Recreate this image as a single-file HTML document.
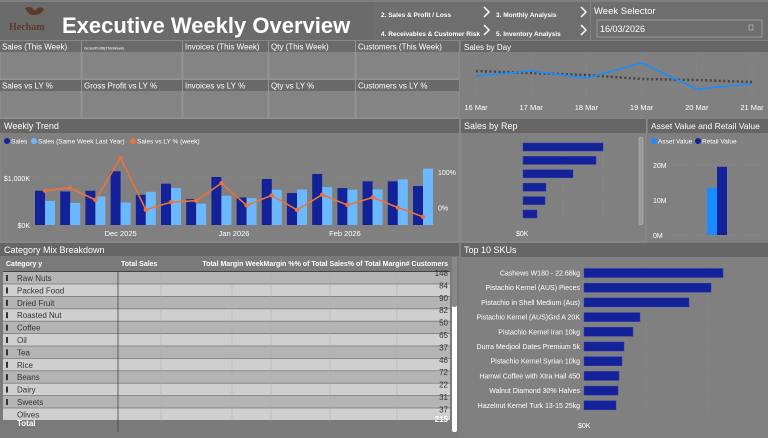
<!DOCTYPE html>
<html><head><meta charset="utf-8"><style>
html,body{margin:0;padding:0;background:#7f7f7f;width:768px;height:438px;overflow:hidden}
svg{display:block;font-family:"Liberation Sans",sans-serif}
</style></head><body>
<svg id="s" width="768" height="438" viewBox="0 0 768 438" xmlns="http://www.w3.org/2000/svg">
<rect x="0" y="0" width="768" height="438" fill="#7f7f7f"/>
<rect x="0" y="2" width="460" height="38" fill="#6b6b6b"/>
<g>
<path d="M25 8 q6 -3 10 3 q4 -6 9 -2 q-3 6 -9 6 q-6 1 -10 -7z" fill="#5a3a2a"/>
<text x="9" y="30" font-size="10" font-weight="bold" fill="#5a3a2a" font-family="Liberation Serif,serif">Hecham</text>
</g>
<text x="62" y="33" font-size="22" font-weight="bold" fill="#fff">Executive Weekly Overview</text>
<rect x="375" y="2" width="215" height="38" fill="#6e6e6e"/>
<g font-size="6.5" font-weight="bold" fill="#fff">
<text x="381" y="17">2. Sales &amp; Profit / Loss</text>
<text x="381" y="36">4. Receivables &amp; Customer Risk</text>
<text x="496" y="17">3. Monthly Analysis</text>
<text x="496" y="36">5. Inventory Analysis</text>
</g>
<g stroke="#fff" stroke-width="1.5" fill="none">
<path d="M484 7 l5 5 l-5 5"/><path d="M484 25 l5 5 l-5 5"/>
<path d="M581 7 l5 5 l-5 5"/><path d="M581 25 l5 5 l-5 5"/>
</g>
<rect x="591" y="2" width="177" height="38" fill="#6e6e6e"/>
<text x="594" y="14" font-size="9.5" fill="#fff">Week Selector</text>
<rect x="597" y="20" width="165" height="17" fill="#6e6e6e" stroke="#aaa" stroke-width="0.7"/>
<text x="600" y="32" font-size="9" fill="#fff">16/03/2026</text>
<rect x="749" y="25" width="4" height="5" fill="none" stroke="#ccc" stroke-width="0.6"/>
<g id="kpis"></g>
<rect x="461" y="41" width="307" height="77" fill="#808080"/>
<rect x="461" y="41" width="307" height="11" fill="#666"/>
<text x="464" y="50" font-size="8" fill="#fff">Sales by Day</text>
<g id="day"></g>
<rect x="0" y="119" width="459" height="123" fill="#808080" stroke="#999" stroke-width="0.5"/>
<rect x="0" y="119" width="459" height="14" fill="#666"/>
<text x="4" y="129" font-size="9" fill="#fff">Weekly Trend</text>
<g font-size="6.5" fill="#fff">
<circle cx="7" cy="141" r="3" fill="#14229a"/><text x="11" y="143.5">Sales</text>
<circle cx="34" cy="141" r="3" fill="#6cb8ff"/><text x="38" y="143.5">Sales (Same Week Last Year)</text>
<circle cx="133" cy="141" r="3" fill="#e8743b"/><text x="137" y="143.5">Sales vs LY % (week)</text>
</g>
<g id="trend"></g>
<rect x="461" y="119" width="185" height="123" fill="#808080" stroke="#999" stroke-width="0.5"/>
<rect x="461" y="119" width="185" height="14" fill="#666"/>
<text x="464" y="129" font-size="9" fill="#fff">Sales by Rep</text>
<rect x="639" y="137" width="4" height="88" rx="2" fill="#999" stroke="#bbb" stroke-width="0.5"/>
<g id="rep"></g>
<rect x="648" y="119" width="120" height="123" fill="#808080"/>
<rect x="648" y="119" width="120" height="14" fill="#666"/>
<text x="651" y="129" font-size="8.5" fill="#fff">Asset Value and Retail Value</text>
<g font-size="6.5" fill="#fff">
<circle cx="654" cy="141" r="3" fill="#1a8cff"/><text x="658" y="143.5">Asset Value</text>
<circle cx="698" cy="141" r="3" fill="#14229a"/><text x="702" y="143.5">Retail Value</text>
</g>
<g id="asset"></g>
<rect x="0" y="243" width="459" height="195" fill="#7a7a7a"/>
<rect x="0" y="243" width="459" height="13" fill="#666"/>
<text x="4" y="253" font-size="9" fill="#fff">Category Mix Breakdown</text>
<g id="table"></g>
<rect x="452" y="257" width="5" height="175" rx="2" fill="#fff"/>
<rect x="452" y="257" width="5" height="50" rx="2" fill="#888"/>
<rect x="461" y="243" width="307" height="195" fill="#808080"/>
<rect x="461" y="243" width="307" height="14" fill="#666"/>
<text x="464" y="253" font-size="9" fill="#fff">Top 10 SKUs</text>
<g id="sku"></g>
</svg>
<script>
const NS="http://www.w3.org/2000/svg";
function mk(p,t,a,txt){const e=document.createElementNS(NS,t);for(const k in a)e.setAttribute(k,a[k]);if(txt!==undefined)e.textContent=txt;p.appendChild(e);return e;}
const kpiTop=["Sales (This Week)","GrossProfit(ThisWeek)","Invoices (This Week)","Qty (This Week)","Customers (This Week)"];
const kpiBot=["Sales vs LY %","Gross Profit vs LY %","Invoices vs LY %","Qty vs LY %","Customers vs LY %"];
const kpiX=[0,82,183,269,356,460];
const kg=document.getElementById('kpis');
[kpiTop,kpiBot].forEach((row,r)=>{row.forEach((t,i)=>{
 const y=41+r*39;
 const c=mk(kg,'rect',{x:kpiX[i],y:y,width:kpiX[i+1]-kpiX[i]-1,height:38,fill:'#848484',stroke:'#a0a0a0','stroke-width':0.6});
 
 
 mk(kg,'rect',{x:kpiX[i],y:y,width:kpiX[i+1]-kpiX[i]-1,height:11,fill:'#6a6a6a'});
 const tx=mk(kg,'text',{x:kpiX[i]+2,y:y+8.5,'font-size':i==1&&r==0?4:8,fill:'#fff'},t);
 
 
});});
const days=["16 Mar","17 Mar","18 Mar","19 Mar","20 Mar","21 Mar"];
const dayThis=[34,39,32,47,21,26];
const dayLY=[39,37,35,31,30,28];
const dg=document.getElementById('day');
const dx=i=>476+i*55.2, dy=v=>110-v;
days.forEach((d,i)=>{mk(dg,'line',{x1:dx(i),x2:dx(i),y1:55,y2:100,stroke:'#999','stroke-dasharray':'1,2','stroke-width':0.5});
 const t=mk(dg,'text',{x:dx(i),y:110,'font-size':7.5,fill:'#fff','text-anchor':'middle'},d);
 
 });
const lyl=mk(dg,'polyline',{points:dayLY.map((v,i)=>dx(i)+','+dy(v)).join(' '),fill:'none',stroke:'#444','stroke-width':2.5,'stroke-dasharray':'2,2.5'});


const thl=mk(dg,'polyline',{points:dayThis.map((v,i)=>dx(i)+','+dy(v)).join(' '),fill:'none',stroke:'#1a8cff','stroke-width':1.6});


const weeks=16;
const salesK=[729,714,729,1143,643,879,550,1021,586,979,679,1086,786,929,929,829];
const lyK=[514,471,607,479,707,786,457,621,571,750,757,807,750,757,971,1200];
const vsLY=[47,55,21,139,-6,15,19,68,6,34,-7,36,7,28,0,-26];
const trendTicks=["Dec 2025","Jan 2026","Feb 2026"];
const trendTickIdx=[3.2,7.7,12.1];
const tg=document.getElementById('trend');
const gx=i=>35+i*25.2, ys=v=>225-v*0.047, yp=p=>207.5-p*0.357;
mk(tg,'line',{x1:30,x2:430,y1:ys(1000),y2:ys(1000),stroke:'#9a9a9a','stroke-dasharray':'1,2','stroke-width':0.6});
[[0,'$0K'],[1000,'$1,000K']].forEach(([v,l])=>{const t=mk(tg,'text',{x:30,y:ys(v)+3,'font-size':7,fill:'#fff','text-anchor':'end'},l);
 
 });
[[100,'100%'],[0,'0%']].forEach(([v,l])=>{const t=mk(tg,'text',{x:438,y:yp(v)+3,'font-size':7,fill:'#fff'},l);
 
 });
trendTicks.forEach((l,k)=>{const t=mk(tg,'text',{x:gx(trendTickIdx[k])+5,y:236,'font-size':7.5,fill:'#fff','text-anchor':'middle'},l);
 
 });
for(let i=0;i<weeks;i++){
 const b=mk(tg,'rect',{x:gx(i),y:ys(salesK[i]),width:10,height:225-ys(salesK[i]),fill:'#14229a'});
 
 
 const c=mk(tg,'rect',{x:gx(i)+10,y:ys(lyK[i]),width:10,height:225-ys(lyK[i]),fill:'#6cb8ff'});
 
 
}
const pl=mk(tg,'polyline',{points:vsLY.map((v,i)=>(gx(i)+10)+','+yp(v)).join(' '),fill:'none',stroke:'#e8743b','stroke-width':1.6});


vsLY.forEach((v,i)=>{const p=mk(tg,'circle',{cx:gx(i)+10,cy:yp(v),r:2.2,fill:'#e8743b'});
 
 });
const repVals=[80,73,50,23,22,14];
const rg=document.getElementById('rep');
[0,40,80].forEach(k=>mk(rg,'line',{x1:523+k,x2:523+k,y1:140,y2:225,stroke:'#999','stroke-dasharray':'1,2','stroke-width':0.5}));
repVals.forEach((v,i)=>{const b=mk(rg,'rect',{x:523,y:143+i*13.4,width:v,height:8,fill:'#14229a',stroke:'#2a3ab8','stroke-width':0.5});
 
 });
const r0=mk(rg,'text',{x:516,y:236,'font-size':7,fill:'#fff'},'$0K');


const assetM=[13.5];
const retailM=[19.5];
const ag=document.getElementById('asset');
const ay=v=>235-v*3.5;
[[0,'0M'],[10,'10M'],[20,'20M']].forEach(([v,l])=>{mk(ag,'line',{x1:672,x2:765,y1:ay(v),y2:ay(v),stroke:'#999','stroke-dasharray':'1,2','stroke-width':0.5});
 const t=mk(ag,'text',{x:653,y:ay(v)+3,'font-size':7,fill:'#fff'},l);
 
 });
const ab=mk(ag,'rect',{x:707,y:ay(assetM[0]),width:10,height:235-ay(assetM[0]),fill:'#1a8cff'});


const rb=mk(ag,'rect',{x:717,y:ay(retailM[0]),width:10,height:235-ay(retailM[0]),fill:'#14229a'});


const cats=["Raw Nuts","Packed Food","Dried Fruit","Roasted Nut","Coffee","Oil","Tea","Rice","Beans","Dairy","Sweets","Olives"];
const custs=[148,84,90,82,50,65,37,46,72,22,31,37];
const tb=document.getElementById('table');
mk(tb,'rect',{x:3,y:257,width:448,height:176,fill:'#7a7a7a'});
const hdr=[["Category y",6,'start'],["Total Sales",121,'start'],["Total Margin WeekMargin %% of Total Sales% of Total Margin# Customers",448,'end']];
hdr.forEach(([l,x,a])=>{const t=mk(tb,'text',{x:x,y:266,'font-size':7,'font-weight':'bold',fill:'#fff','text-anchor':a},l);
 
 });
mk(tb,'line',{x1:3,x2:450,y1:271.5,y2:271.5,stroke:'#333','stroke-width':0.8});
cats.forEach((c,i)=>{const y=272+i*12.4;
 const r=mk(tb,'rect',{x:3,y:y,width:447,height:11.6,fill:i%2?'#cfcfcf':'#b4b4b4'});
 
 
 if(i<11)mk(tb,'rect',{x:6,y:y+3,width:2,height:6,fill:'#333'});
 const t=mk(tb,'text',{x:17,y:y+9,'font-size':8,fill:'#333'},c);
 
 
 const n=mk(tb,'text',{x:448,y:y+4,'font-size':8,fill:'#333','text-anchor':'end'},custs[i]);
 
 
});
[161,232,271,330,397].forEach(x=>mk(tb,'line',{x1:x,x2:x,y1:272,y2:421,stroke:'#aaa','stroke-width':0.5}));
mk(tb,'line',{x1:118,x2:118,y1:272,y2:432,stroke:'#444','stroke-width':0.8});
const tt=mk(tb,'text',{x:17,y:426,'font-size':8,'font-weight':'bold',fill:'#fff'},'Total');


const tv=mk(tb,'text',{x:448,y:422,'font-size':8,'font-weight':'bold',fill:'#fff','text-anchor':'end'},'215');


const skus=["Cashews W180 - 22.68kg","Pistachio Kernel (AUS) Pieces","Pistachio in Shell Medium (Aus)","Pistachio Kernel (AUS)Grd A 20K","Pistachio Kernel Iran 10kg","Durra Medjool Dates Premium 5k","Pistachio Kernel Syrian 10kg","Hamwi Coffee with Xtra Hail 450","Walnut Diamond 30% Halves","Hazelnut Kernel Turk 13-15 25kg"];
const skuVals=[139,127,105,56,49,40,38,35,34,32];
const sg=document.getElementById('sku');
[0,62,124].forEach(k=>mk(sg,'line',{x1:584+k,x2:584+k,y1:265,y2:415,stroke:'#999','stroke-dasharray':'1,2','stroke-width':0.5}));
skus.forEach((s,i)=>{const y=268.5+i*14.7;
 const b=mk(sg,'rect',{x:584,y:y,width:skuVals[i],height:9,fill:'#14229a',stroke:'#2a3ab8','stroke-width':0.5});
 
 
 const t=mk(sg,'text',{x:580,y:y+7,'font-size':7,fill:'#fff','text-anchor':'end'},s);
 
 });
const s0=mk(sg,'text',{x:578,y:428,'font-size':7,fill:'#fff'},'$0K');


</script>
</body></html>
